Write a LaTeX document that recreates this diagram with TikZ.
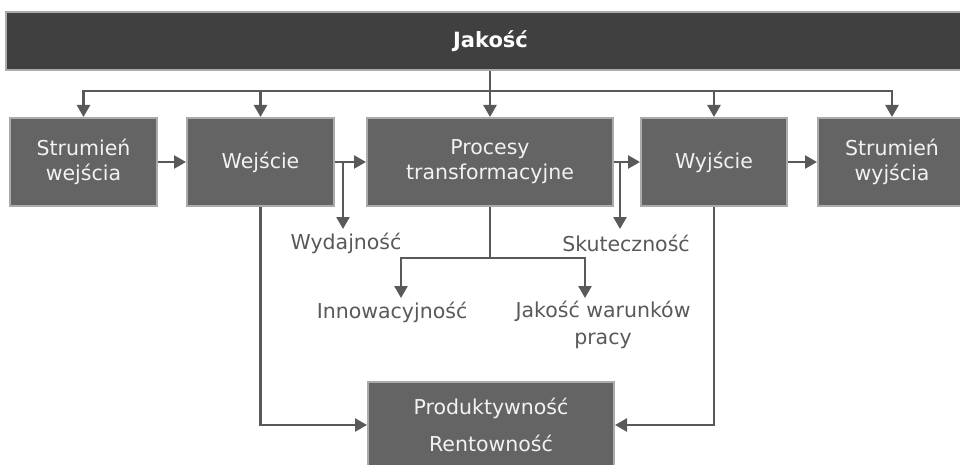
\documentclass[tikz,border=0pt]{standalone}
\usepackage{fontspec}
\setmainfont{DejaVu Sans}
\usetikzlibrary{arrows.meta}

\definecolor{linegray}{HTML}{595959}
\definecolor{boxfill}{HTML}{646464}
\definecolor{boxedge}{HTML}{ABABAB}
\definecolor{barfill}{HTML}{404040}
\definecolor{boxtext}{HTML}{F2F2F2}

\begin{document}
\begin{tikzpicture}[x=1pt,y=-1pt,
  box/.style={draw=boxedge, line width=2pt, fill=boxfill, text=boxtext,
    font=\fontsize{20.5}{25}\selectfont, align=center, inner sep=0pt,
    minimum height=88pt},
  lbl/.style={text=linegray, font=\fontsize{20.5}{27}\selectfont, align=center, inner sep=0pt},
  conn/.style={draw=linegray, line width=2.4pt},
  arr/.style={conn, -{Triangle[length=12pt,width=13pt]}}
]
\useasboundingbox (0,0) rectangle (960,465);

% quality bar
\node[draw=boxedge, line width=2pt, fill=barfill, text=white,
      font=\bfseries\fontsize{21}{24}\selectfont,
      minimum width=969pt, minimum height=58pt, inner sep=0pt]
      (bar) at (490.5,41) {Jakość};

% main process chain
\node[box, minimum width=147pt] (b1) at (83.5,162) {Strumień\\wejścia};
\node[box, minimum width=147pt] (b2) at (260.5,162) {Wejście};
\node[box, minimum width=246pt] (b3) at (490,162) {Procesy\\transformacyjne};
\node[box, minimum width=146pt] (b4) at (714,162) {Wyjście};
\node[box, minimum width=148pt] (b5) at (892,162) {Strumień\\wyjścia};

% results box
\node[box, minimum width=246pt, minimum height=86pt,
      font=\fontsize{20.5}{37}\selectfont] (b6) at (491,425) {Produktywność\\Rentowność};

% labels
\node[lbl] (wyd) at (346,243) {Wydajność};
\node[lbl] (sku) at (626,243) {Skuteczność};
\node[lbl] (inn) at (392,312) {Innowacyjność};
\node[lbl, anchor=north] (jwp) at (603,301) {Jakość warunków\\pracy};

% distribution of quality to every stage
\coordinate (hub) at (490,91);
\draw[conn] (bar.south -| hub) -- (hub);
\foreach \b in {b1,b2,b3,b4,b5}
  \draw[arr] (hub) -| (\b.north);

% flow between stages
\draw[arr] (b1.east) -- (b2.west);
\draw[arr] (b2.east) -- (b3.west);
\draw[arr] (b3.east) -- (b4.west);
\draw[arr] (b4.east) -- (b5.west);

% efficiency and effectiveness taps
\coordinate (tapA) at (343,162);
\coordinate (tapAend) at (343,229);
\draw[arr] (tapA) -- (tapAend);
\coordinate (tapB) at (620,162);
\coordinate (tapBend) at (620,229);
\draw[arr] (tapB) -- (tapBend);

% innovation and working conditions
\coordinate (split) at (490,258);
\coordinate (innTop) at (401,298);
\coordinate (jwpTop) at (585,298);
\draw[conn] (b3.south) -- (split);
\draw[arr] (split) -| (innTop);
\draw[arr] (split) -| (jwpTop);

% input and output feed the results
\draw[arr] (b2.south) |- (b6.west);
\draw[arr] (b4.south) |- (b6.east);
\end{tikzpicture}
\end{document}
